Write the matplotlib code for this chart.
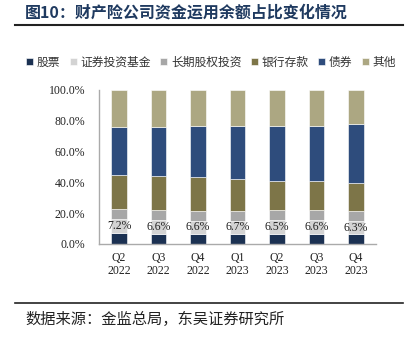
import matplotlib
matplotlib.use("Agg")
import matplotlib.pyplot as plt
import numpy as np

plt.rcParams["font.family"] = ["Liberation Serif", "Noto Sans CJK SC", "DejaVu Sans"]

quarters = ["Q2\n2022", "Q3\n2022", "Q4\n2022", "Q1\n2023", "Q2\n2023", "Q3\n2023", "Q4\n2023"]
series_names = ["股票", "证券投资基金", "长期股权投资", "银行存款", "债券", "其他"]
stocks = [7.2, 6.6, 6.6, 6.7, 6.5, 6.6, 6.3]
funds = [9.0, 9.0, 8.3, 8.4, 9.1, 9.0, 8.8]
lt_equity = [6.5, 6.4, 6.5, 6.3, 6.4, 6.4, 6.3]
deposits = [22.3, 22.0, 21.9, 21.0, 19.1, 18.7, 18.4]
bonds = [31.2, 32.2, 33.5, 34.4, 35.7, 36.1, 38.1]
others = [23.8, 23.8, 23.2, 23.2, 23.2, 23.2, 22.1]
colors = ["#1B3152", "#D3D3D3", "#A7A7A7", "#7D7548", "#2E4C7C", "#ACA782"]

fig = plt.figure(figsize=(4.08, 3.37), dpi=100)
ax = fig.add_axes([99.3 / 408, 1 - 244 / 337, 276.4 / 408, 154 / 337])

x = np.arange(len(quarters))
bottom = np.zeros(len(quarters))
for name, vals, c in zip(series_names, [stocks, funds, lt_equity, deposits, bonds, others], colors):
    vals = np.array(vals) / 100
    ax.bar(x, vals, 0.4, bottom=bottom, color=c, edgecolor="white", linewidth=0.4, label=name)
    bottom += vals

for xi, v in zip(x, stocks):
    ax.text(xi, v / 100 + 0.005, f"{v:.1f}%", ha="center", va="bottom", fontsize=8.5, color="#222222")

ax.set_xlim(-0.5, len(quarters) - 0.5)
ax.set_ylim(0, 1)
ax.set_yticks(np.arange(0, 1.01, 0.2))
ax.set_yticklabels([f"{t * 100:.1f}%" for t in np.arange(0, 1.01, 0.2)])
ax.set_xticks(x)
ax.set_xticklabels(quarters, linespacing=1.1)
ax.tick_params(length=0, labelsize=8.5, colors="#222222")
ax.tick_params(axis="y", pad=10)
ax.tick_params(axis="x", pad=6)
for s in ["top", "right"]:
    ax.spines[s].set_visible(False)
for s in ["left", "bottom"]:
    ax.spines[s].set_color("#AAAAAA")
    ax.spines[s].set_linewidth(1.0)

leg = fig.legend(loc="center", bbox_to_anchor=(0.517, 1 - 62 / 337), ncol=6, frameon=False,
                 prop={"family": ["Noto Sans CJK SC"], "size": 8.5}, handlelength=0.6,
                 handleheight=0.6, handletextpad=0.3, columnspacing=0.8)
for t in leg.get_texts():
    t.set_color("#333333")

fig.text(25 / 408, 1 - 12 / 337, "图10：财产险公司资金运用余额占比变化情况", ha="left", va="center",
         fontsize=11.5, fontweight="bold", color="#1F3A60", family=["Noto Sans CJK SC"])
fig.add_artist(plt.Line2D([15 / 408, 403 / 408], [1 - 25 / 337] * 2, color="#222222", lw=1.5))
fig.add_artist(plt.Line2D([15 / 408, 403 / 408], [1 - 303 / 337] * 2, color="#222222", lw=1.2))
fig.text(25 / 408, 1 - 319 / 337, "数据来源：金监总局，东吴证券研究所", ha="left", va="center",
         fontsize=11, color="#222222", family=["Noto Sans CJK SC"])

fig.savefig("out.png", dpi=100)
